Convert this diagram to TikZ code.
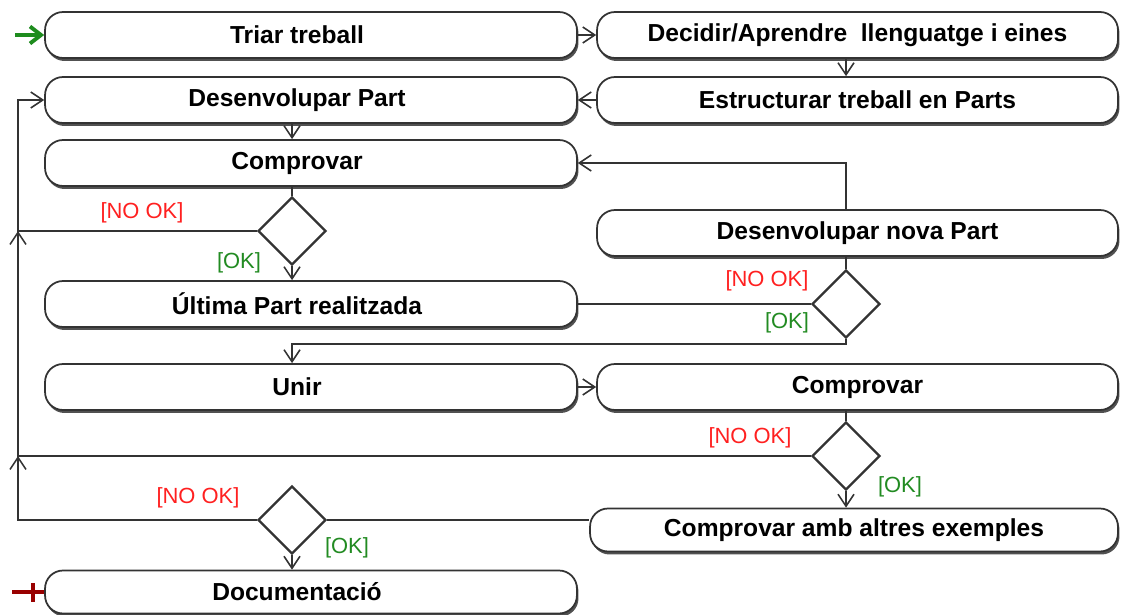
\documentclass[tikz,border=0pt]{standalone}
\usepackage{fontspec}
\setmainfont{Liberation Sans}
\usetikzlibrary{arrows.meta,shapes.geometric,shadows}

\definecolor{guardred}{HTML}{FF2020}
\definecolor{guardgreen}{HTML}{228B22}
\definecolor{startgreen}{HTML}{1E8C1E}
\definecolor{endred}{HTML}{990000}
\definecolor{ink}{HTML}{333333}

\begin{document}
\begin{tikzpicture}[x=0.02cm,y=-0.02cm,
  act/.style={draw=ink, line width=1pt, fill=white, rounded corners=0.36cm,
    minimum height=0.92cm, inner sep=0pt,
    font=\fontsize{14}{16}\selectfont\bfseries,
    drop shadow={shadow xshift=0.03cm, shadow yshift=-0.06cm, fill=black!80, opacity=0.85}},
  leftact/.style={act, minimum width=10.64cm, execute at begin node={\hspace*{-0.56cm}}},
  rightact/.style={act, minimum width=10.42cm},
  choice/.style={diamond, draw=ink, line width=1.3pt, fill=white,
    minimum width=1.36cm, minimum height=1.36cm, inner sep=0pt},
  link/.style={draw=ink, line width=0.9pt},
  flow/.style={link, -{Straight Barb[length=2.4mm,width=3.2mm]}},
  guard/.style={font=\fontsize{12.5}{14}\selectfont, inner sep=0pt},
  nok/.style={guard, text=guardred},
  okay/.style={guard, text=guardgreen}
]
\useasboundingbox[fill=white] (0,0) rectangle (1126,615);

% activities
\node[leftact]  (triar)   at (311,35)  {Triar treball};
\node[rightact] (decidir) at (857.5,35) {Decidir/Aprendre \ llenguatge i eines};
\node[leftact]  (desp)    at (311,100) {Desenvolupar Part};
\node[rightact] (estr)    at (857.5,100) {Estructurar treball en Parts};
\node[leftact]  (comp1)   at (311,163) {Comprovar};
\node[rightact] (nova)    at (857.5,233) {Desenvolupar nova Part};
\node[leftact]  (ultima)  at (311,304) {Última Part realitzada};
\node[leftact]  (unir)    at (311,387) {Unir};
\node[rightact] (comp2)   at (857.5,387) {Comprovar};
\node[rightact, minimum width=10.56cm, minimum height=0.86cm] (cae) at (854,530) {Comprovar amb altres exemples};
\node[leftact, minimum height=0.86cm] (doc) at (311,592) {Documentació};

% decisions
\node[choice] (d1) at (292,231) {};
\node[choice] (d2) at (846,304) {};
\node[choice] (d3) at (846,456) {};
\node[choice] (d4) at (292,520) {};

% guards
\node[nok]  (g1n) at (142,213) {[NO OK]};
\node[okay] (g1o) at (239,263) {[OK]};
\node[nok]  (g2n) at (767,281) {[NO OK]};
\node[okay] (g2o) at (787,323) {[OK]};
\node[nok]  (g3n) at (750,438) {[NO OK]};
\node[okay] (g3o) at (900,487) {[OK]};
\node[nok]  (g4n) at (198,498) {[NO OK]};
\node[okay] (g4o) at (347,548) {[OK]};

% helper points
\coordinate (rail) at (18,0);
\coordinate (okjoin) at (846,344);
\coordinate (start) at (15,35);
\coordinate (finish) at (12,592);
\coordinate (endbar) at (33,592);

% initial and final markers
\draw[startgreen, line width=2.2pt, -{Straight Barb[length=2.2mm,width=3.4mm]}] (start) -- (triar.west);
\draw[endred, line width=2.6pt] (doc.west) -- (finish);
\draw[endred, line width=2.6pt] ([yshift=0.18cm]endbar) -- ([yshift=-0.2cm]endbar);

% flow
\draw[flow] (triar.east) -- (decidir.west);
\draw[flow] (decidir.south -| d2) -- (estr.north -| d2);
\draw[flow] (estr.west) -- (desp.east);
\draw[flow] (desp.south -| d1) -- (comp1.north -| d1);
\draw[link] (comp1.south -| d1) -- (d1.north);
\draw[flow] (d1.south) -- (ultima.north -| d1);
\draw[flow] (d1.west) -- (d1.west -| rail) |- (desp.west);
\draw[flow] (nova.north -| d2) |- (comp1.east);
\draw[link] (nova.south -| d2) -- (d2.north);
\draw[link] (ultima.east) -- (d2.west);
\draw[flow] (d2.south) -- (okjoin) -| (unir.north -| d1);
\draw[flow] (unir.east) -- (comp2.west);
\draw[link] (comp2.south -| d3) -- (d3.north);
\draw[flow] (d3.south) -- (cae.north -| d3);
\draw[flow] (d3.west) -- (d3.west -| rail) -- (d1.west -| rail);
\draw[link] (cae.west |- d4) -- (d4.east);
\draw[flow] (d4.west) -- (d4.west -| rail) -- (d3.west -| rail);
\draw[flow] (d4.south) -- (doc.north -| d4);
\end{tikzpicture}
\end{document}
